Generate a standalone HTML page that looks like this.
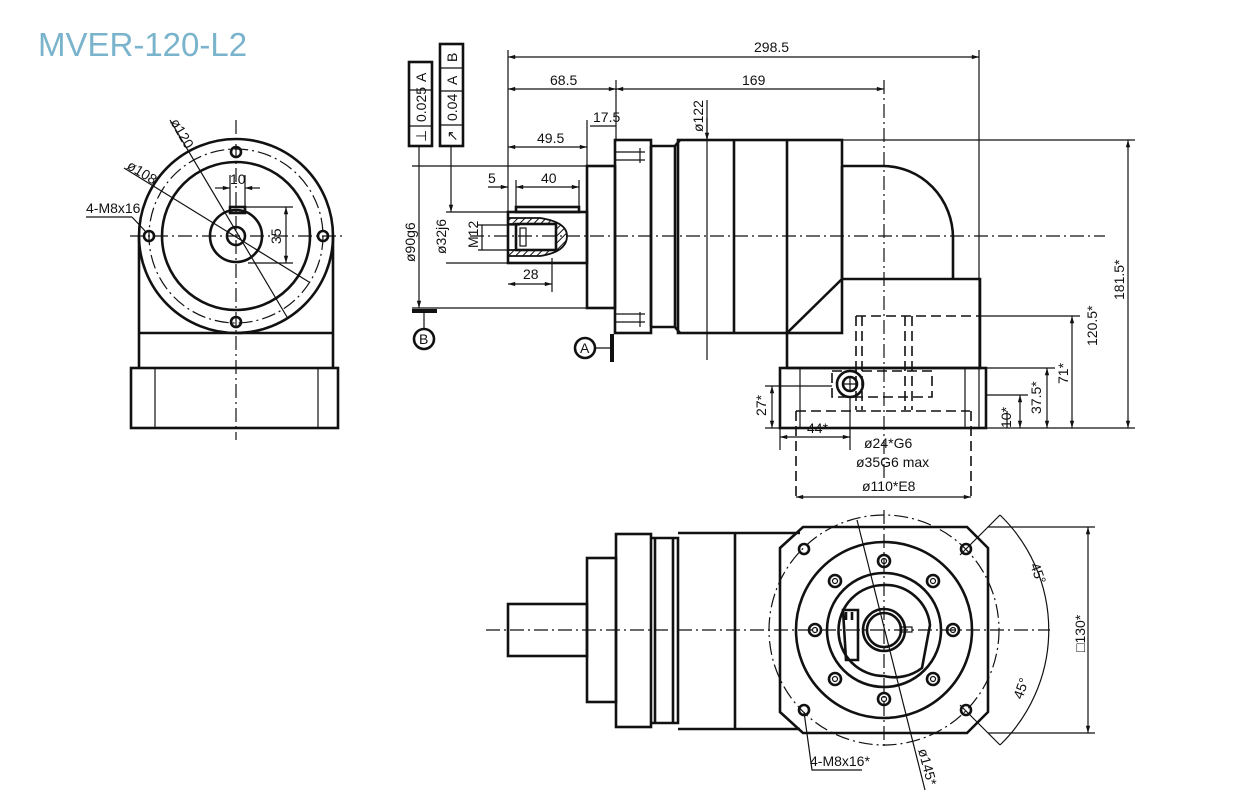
<!DOCTYPE html>
<html><head><meta charset="utf-8"><style>
html,body{margin:0;padding:0;background:#fff;width:1256px;height:800px;overflow:hidden}
svg{display:block}
text{font-family:"Liberation Sans Narrow","Liberation Sans",sans-serif;font-size:14px;fill:#111}
.t{fill:none;stroke:#111;stroke-width:2.6}
.n{fill:none;stroke:#111;stroke-width:1.2}
.c{fill:none;stroke:#111;stroke-width:1.2;stroke-dasharray:14 4 2 4}
.d{fill:none;stroke:#111;stroke-width:1.6;stroke-dasharray:10 5}
</style></head><body>
<svg width="1256" height="800" viewBox="0 0 1256 800" xmlns="http://www.w3.org/2000/svg">
<defs>
<marker id="a" viewBox="0 0 10 10" refX="10" refY="5" markerWidth="9" markerHeight="6" orient="auto-start-reverse"><path d="M0,2 L10,5 L0,8z" fill="#111"/></marker>
<pattern id="h" width="5" height="5" patternUnits="userSpaceOnUse" patternTransform="rotate(45)"><line x1="0" y1="0" x2="0" y2="5" stroke="#111" stroke-width="2"/></pattern>
</defs>
<text x="38" y="56" style="font-family:'Liberation Sans',sans-serif;font-size:33px;fill:#7ab3cc">MVER-120-L2</text>

<!-- LEFT VIEW -->
<g>
<circle cx="236" cy="236" r="97" class="t"/>
<circle cx="236" cy="236" r="87" class="c"/>
<circle cx="236" cy="236" r="74" class="t"/>
<circle cx="236" cy="236" r="26" class="t"/>
<circle cx="236" cy="236" r="9" class="t" stroke-width="3.5"/>
<rect x="230" y="207" width="15" height="6" class="t"/>
<g class="t"><circle cx="236" cy="152" r="5"/><circle cx="149" cy="236" r="5"/><circle cx="323" cy="236" r="5"/><circle cx="236" cy="322" r="5"/></g>
<line x1="130" y1="236" x2="342" y2="236" class="c"/>
<line x1="236" y1="120" x2="236" y2="440" class="c"/>
<path d="M139,236 V368 M333,236 V368 M139,333 H333" class="t"/>
<rect x="131" y="368" width="207" height="60" class="t"/>
<path d="M155,368 V428 M318,368 V428" class="n"/>
<line x1="170" y1="120" x2="287" y2="317" class="n"/>
<line x1="124" y1="168" x2="309" y2="282" class="n"/>
<text transform="translate(170,122) rotate(60)">ø120</text>
<text transform="translate(126,168) rotate(32)">ø108</text>
<line x1="86" y1="217" x2="132" y2="217" class="n"/><line x1="132" y1="217" x2="146" y2="232" class="n"/>
<text x="86" y="213">4-M8x16</text>
<path d="M230,175 V207 M245,175 V207" class="n"/>
<line x1="215" y1="188" x2="230" y2="188" class="n" marker-end="url(#a)"/><line x1="260" y1="188" x2="245" y2="188" class="n" marker-end="url(#a)"/>
<text x="230" y="184">10</text>
<path d="M245,207 H293 M248,263 H293" class="n"/>
<line x1="286" y1="207" x2="286" y2="263" class="n" marker-start="url(#a)" marker-end="url(#a)"/>
<text transform="translate(281,244) rotate(-90)">35</text>
</g>

<!-- SIDE VIEW -->
<g>
<rect x="409" y="62" width="23" height="84" class="t" stroke-width="2"/>
<path d="M409,90 H432 M409,126 H432" class="n"/>
<text transform="translate(426,82) rotate(-90)">A</text>
<text transform="translate(426,122) rotate(-90)">0.025</text>
<text transform="translate(426,142) rotate(-90)">⊥</text>
<rect x="440" y="44" width="23" height="102" class="t" stroke-width="2"/>
<path d="M440,68 H463 M440,91 H463 M440,125 H463" class="n"/>
<text transform="translate(457,62) rotate(-90)">B</text>
<text transform="translate(457,85) rotate(-90)">A</text>
<text transform="translate(457,121) rotate(-90)">0.04</text>
<text transform="translate(457,142) rotate(-90)">↗</text>
<line x1="419" y1="146" x2="419" y2="308" class="n" marker-end="url(#a)"/>
<line x1="451" y1="146" x2="451" y2="212" class="n" marker-end="url(#a)"/>
<path d="M412,166 H587 M412,308 H587" class="n"/>
<line x1="412" y1="311" x2="437" y2="311" stroke="#111" stroke-width="4"/>
<line x1="424" y1="311" x2="424" y2="329" class="n"/>
<circle cx="424" cy="339" r="10" class="t" stroke-width="1.8"/><text x="419" y="344">B</text>
<circle cx="585" cy="348" r="10" class="t" stroke-width="1.8"/><text x="580" y="353">A</text>
<line x1="595" y1="348" x2="612" y2="348" class="n"/>
<line x1="612" y1="334" x2="612" y2="362" stroke="#111" stroke-width="4"/>
<text transform="translate(415,262) rotate(-90)">ø90g6</text>
<path d="M446,212 H508 M446,263 H508" class="n"/>
<text transform="translate(446,254) rotate(-90)">ø32j6</text>
<path d="M478,225 H520 M478,250 H520" class="n"/>
<line x1="482" y1="225" x2="482" y2="250" class="n"/>
<text transform="translate(478,248) rotate(-90)">M12</text>

<rect x="508" y="212" width="79" height="51" class="t"/>
<rect x="516" y="207" width="63" height="5" class="t" stroke-width="2"/>
<path d="M508,218 H540 Q567,222 567,236 Q567,252 540,256 H508 V250 H556 V224 H508z" fill="url(#h)" stroke="#111" stroke-width="1.8"/>
<rect x="516" y="224" width="40" height="26" class="t" stroke-width="1.8"/>
<rect x="520" y="228" width="6" height="18" class="n"/>
<rect x="587" y="166" width="28" height="142" class="t"/>
<rect x="615" y="140" width="36" height="193" class="t"/>
<path d="M615,152 H645 M615,160 H645 M615,314 H645 M615,322 H645" class="n"/>
<path d="M640,148 V163 M640,312 V327" class="n"/>
<path d="M651,146 H675 L680,140 M651,327 H675 L680,333 M651,146 V327 M675,146 V327" class="t"/>
<rect x="678" y="140" width="164" height="193" class="t"/>
<path d="M734,140 V333 M787,140 V333" class="t"/>
<path d="M842,166 H883 A70,72 0 0 1 953,238 V279 H980 V368 H787 V333 L842,279 H953 M842,166 V279" class="t"/>
<line x1="842" y1="140" x2="1135" y2="140" class="n"/>
<rect x="780" y="368" width="206" height="60" class="t"/>
<path d="M800,368 V428 M965,368 V428" class="n"/>
<path d="M856,316 H980 M856,316 V410 M862,316 V410 M905,316 V410 M912,316 V410" class="d"/>
<rect x="832" y="371" width="100" height="26" class="d"/>
<path d="M796,411 H970 M796,411 V500 M971,411 V500" class="d"/>
<circle cx="850" cy="384" r="13" class="t"/><circle cx="850" cy="384" r="7" class="t"/>
<path d="M843,384 H857 M850,377 V391" class="n"/>
<line x1="470" y1="236" x2="1105" y2="236" class="c"/>
<line x1="884" y1="80" x2="884" y2="480" class="c"/>
<line x1="707" y1="100" x2="707" y2="360" class="n"/>
<line x1="707" y1="118" x2="707" y2="140" class="n" marker-end="url(#a)"/>
<text transform="translate(703,132) rotate(-90)">ø122</text>
<path d="M508,50 V212 M979,50 V428 M616,80 V140 M587,120 V166" class="n"/>
<line x1="508" y1="57" x2="979" y2="57" class="n" marker-start="url(#a)" marker-end="url(#a)"/>
<text x="754" y="52">298.5</text>
<line x1="508" y1="89" x2="616" y2="89" class="n" marker-start="url(#a)" marker-end="url(#a)"/>
<line x1="616" y1="89" x2="884" y2="89" class="n" marker-start="url(#a)" marker-end="url(#a)"/>
<text x="550" y="85">68.5</text><text x="742" y="85">169</text>
<line x1="590" y1="126" x2="616" y2="126" class="n"/>
<text x="593" y="122">17.5</text>
<line x1="508" y1="147" x2="587" y2="147" class="n" marker-start="url(#a)" marker-end="url(#a)"/>
<text x="537" y="143">49.5</text>
<path d="M516,180 V207 M579,180 V207" class="n"/>
<line x1="488" y1="187" x2="508" y2="187" class="n" marker-end="url(#a)"/>
<line x1="516" y1="187" x2="579" y2="187" class="n" marker-start="url(#a)" marker-end="url(#a)"/>
<text x="488" y="183">5</text><text x="541" y="183">40</text>
<path d="M552,258 V292" class="n"/>
<line x1="508" y1="284" x2="552" y2="284" class="n" marker-start="url(#a)" marker-end="url(#a)"/>
<text x="523" y="279">28</text>
<path d="M986,428 H1135 M980,316 H1080 M986,368 H1055 M986,395 H1028 M765,386 H832 M765,428 H780" class="n"/>
<line x1="1128" y1="140" x2="1128" y2="428" class="n" marker-start="url(#a)" marker-end="url(#a)"/>
<text transform="translate(1124,300) rotate(-90)">181.5*</text>
<line x1="1072" y1="316" x2="1072" y2="428" class="n" marker-start="url(#a)" marker-end="url(#a)"/>
<text transform="translate(1097,346) rotate(-90)">120.5*</text>
<line x1="1047" y1="368" x2="1047" y2="428" class="n" marker-start="url(#a)" marker-end="url(#a)"/>
<text transform="translate(1068,384) rotate(-90)">71*</text>
<line x1="1020" y1="395" x2="1020" y2="428" class="n" marker-start="url(#a)" marker-end="url(#a)"/>
<text transform="translate(1041,414) rotate(-90)">37.5*</text>
<line x1="1007" y1="411" x2="1007" y2="428" class="n"/>
<text transform="translate(1011,428) rotate(-90)">10*</text>
<line x1="772" y1="386" x2="772" y2="428" class="n" marker-start="url(#a)" marker-end="url(#a)"/>
<text transform="translate(766,416) rotate(-90)">27*</text>
<path d="M780,428 V450 M850,396 V450" class="n"/>
<line x1="780" y1="437" x2="850" y2="437" class="n" marker-start="url(#a)" marker-end="url(#a)"/>
<text x="807" y="433">44*</text>
<text x="864" y="448">ø24*G6</text>
<text x="856" y="467">ø35G6 max</text>
<line x1="796" y1="497" x2="971" y2="497" class="n" marker-start="url(#a)" marker-end="url(#a)"/>
<text x="862" y="491">ø110*E8</text>
</g>

<!-- BOTTOM VIEW -->
<g>
<line x1="486" y1="630" x2="1050" y2="630" class="c"/>
<rect x="508" y="604" width="79" height="52" class="t"/>
<rect x="587" y="558" width="29" height="144" class="t"/>
<rect x="616" y="534" width="35" height="193" class="t"/>
<path d="M651,538 H678 V723 H651 M655,538 V723 M673,538 V723" class="t"/>
<path d="M678,533 H800 M678,729 H800 M735,533 V729" class="t"/>
<path d="M803,527 H967 L988,548 V712 L967,733 H803 L780,712 V548z" class="t"/>
<circle cx="884" cy="630" r="115" class="c"/>
<circle cx="884" cy="630" r="88" class="t"/>
<circle cx="884" cy="630" r="57" class="t"/>
<path d="M884,585 A45,45 0 0 1 930,625 L922,668 A45,45 0 0 1 884,676 A45,45 0 0 1 884,585z" class="t"/>
<circle cx="884" cy="630" r="21" class="t"/>
<circle cx="884" cy="630" r="17" class="t"/>
<rect x="900" y="627" width="12" height="5" class="n"/>
<path d="M843,610 H858 V660 H846z M846,612 V620 M852,612 V620" class="t" stroke-width="1.8"/>
<g class="t">
<circle cx="884" cy="561" r="6"/><circle cx="933" cy="581" r="6"/><circle cx="953" cy="630" r="6"/><circle cx="933" cy="679" r="6"/>
<circle cx="884" cy="699" r="6"/><circle cx="835" cy="679" r="6"/><circle cx="815" cy="630" r="6"/><circle cx="835" cy="581" r="6"/>
<circle cx="804" cy="549" r="5"/><circle cx="966" cy="549" r="5"/><circle cx="804" cy="710" r="5"/><circle cx="966" cy="710" r="5"/>
</g>
<g class="n">
<circle cx="884" cy="561" r="2.5"/><circle cx="933" cy="581" r="2.5"/><circle cx="953" cy="630" r="2.5"/><circle cx="933" cy="679" r="2.5"/>
<circle cx="884" cy="699" r="2.5"/><circle cx="835" cy="679" r="2.5"/><circle cx="815" cy="630" r="2.5"/><circle cx="835" cy="581" r="2.5"/>
</g>
<line x1="884" y1="510" x2="884" y2="750" class="c"/>
<path d="M960,555 L1000,515 M960,705 L1000,745" class="n"/>
<path d="M1000,515 A160,160 0 0 1 1000,745" class="n"/>
<text transform="translate(1030,565) rotate(70)">45°</text>
<text transform="translate(1022,700) rotate(-70)">45°</text>
<path d="M988,527 H1095 M988,733 H1095" class="n"/>
<line x1="1088" y1="527" x2="1088" y2="733" class="n" marker-start="url(#a)" marker-end="url(#a)"/>
<text transform="translate(1085,652) rotate(-90)">□130*</text>
<line x1="857" y1="520" x2="925" y2="790" class="n"/>
<text transform="translate(918,750) rotate(75)">ø145*</text>
<path d="M804,712 L812,770 H862" class="n"/>
<text x="810" y="766">4-M8x16*</text>
</g>
</svg>
</body></html>
